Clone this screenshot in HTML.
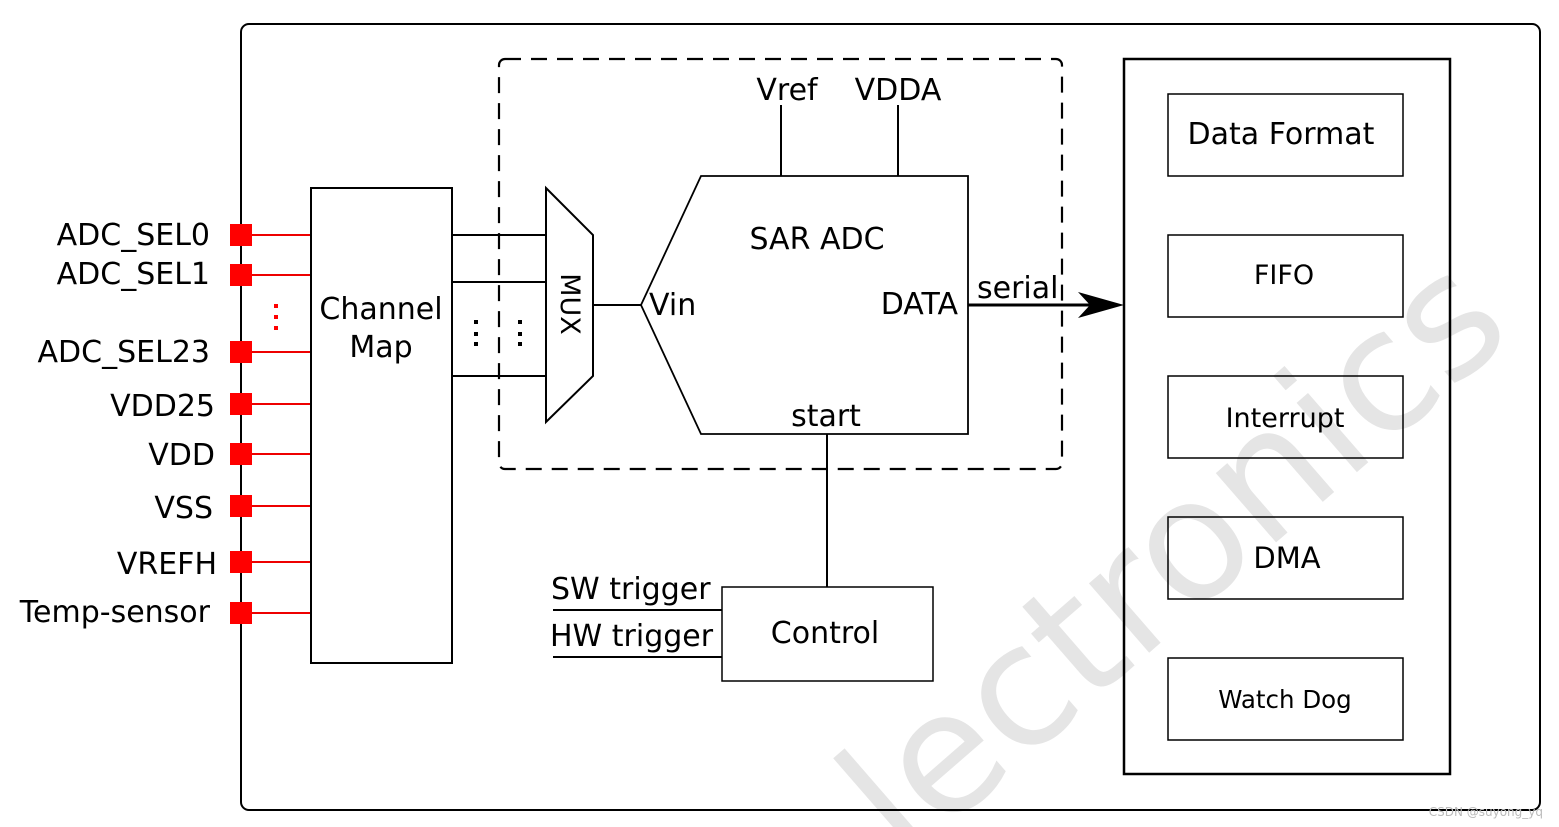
<!DOCTYPE html>
<html><head><style>html,body{margin:0;background:#fff;overflow:hidden;width:1559px;height:827px}svg{display:block;overflow:hidden}</style></head><body>
<svg width="1559" height="827" viewBox="0 0 1559 827" xmlns="http://www.w3.org/2000/svg" font-family="DejaVu Sans, Liberation Sans, sans-serif">
<text x="0" y="0" font-size="168" fill="#e5e5e5" transform="translate(905,865) rotate(-41)">lectronics</text>
<rect x="241" y="24" width="1299" height="786" rx="8" fill="none" stroke="#000" stroke-width="2"/>
<g stroke="#e00" stroke-width="2">
<line x1="252" y1="235" x2="311" y2="235"/><line x1="252" y1="275" x2="311" y2="275"/>
<line x1="252" y1="352" x2="311" y2="352"/><line x1="252" y1="404" x2="311" y2="404"/>
<line x1="252" y1="454" x2="311" y2="454"/><line x1="252" y1="506" x2="311" y2="506"/>
<line x1="252" y1="562" x2="311" y2="562"/><line x1="252" y1="613" x2="311" y2="613"/>
</g>
<g fill="#f00">
<rect x="230" y="224" width="22" height="22"/><rect x="230" y="264" width="22" height="22"/>
<rect x="230" y="341" width="22" height="22"/><rect x="230" y="393" width="22" height="22"/>
<rect x="230" y="443" width="22" height="22"/><rect x="230" y="495" width="22" height="22"/>
<rect x="230" y="551" width="22" height="22"/><rect x="230" y="602" width="22" height="22"/>
<rect x="274" y="304" width="4" height="4"/><rect x="274" y="315" width="4" height="4"/><rect x="274" y="326" width="4" height="4"/>
</g>
<g font-size="30" text-anchor="end" fill="#000">
<text x="210" y="245">ADC_SEL0</text><text x="210" y="284">ADC_SEL1</text>
<text x="210" y="362">ADC_SEL23</text><text x="215" y="416">VDD25</text>
<text x="215" y="465">VDD</text><text x="213" y="518">VSS</text>
<text x="217" y="574">VREFH</text><text x="210" y="622">Temp-sensor</text>
</g>
<g fill="none" stroke="#000" stroke-width="2">
<rect x="311" y="188" width="141" height="475"/>
<line x1="452" y1="235" x2="546" y2="235"/><line x1="452" y1="282" x2="546" y2="282"/><line x1="452" y1="376" x2="546" y2="376"/>
<rect x="499" y="59" width="563" height="410" rx="6" stroke-dasharray="16,10" stroke-width="2.2"/>
<polygon points="546,188 593,235 593,376 546,422"/>
<line x1="593" y1="305" x2="641" y2="305"/>
<polygon points="701,176 968,176 968,434 701,434 641,305" stroke-width="1.8"/>
<line x1="781" y1="105" x2="781" y2="176"/><line x1="898" y1="105" x2="898" y2="176"/>
<line x1="827" y1="434" x2="827" y2="587"/>
<rect x="722" y="587" width="211" height="94" stroke-width="1.5"/>
<line x1="553" y1="610" x2="722" y2="610"/><line x1="553" y1="657" x2="722" y2="657"/>
<line x1="968" y1="305" x2="1090" y2="305" stroke-width="3"/>
<rect x="1124" y="59" width="326" height="715" stroke-width="2.5"/>
<g stroke-width="1.5">
<rect x="1168" y="94" width="235" height="82"/><rect x="1168" y="235" width="235" height="82"/>
<rect x="1168" y="376" width="235" height="82"/><rect x="1168" y="517" width="235" height="82"/>
<rect x="1168" y="658" width="235" height="82"/>
</g>
</g>
<polygon points="1124,305 1078,292 1090,305 1078,318" fill="#000"/>
<g fill="#000">
<rect x="474" y="320" width="4" height="4"/><rect x="474" y="332" width="4" height="4"/><rect x="474" y="342" width="4" height="4"/>
<rect x="518" y="320" width="4" height="4"/><rect x="518" y="332" width="4" height="4"/><rect x="518" y="342" width="4" height="4"/>
</g>
<g font-size="30" fill="#000">
<text x="381" y="319" text-anchor="middle">Channel</text>
<text x="381" y="357" text-anchor="middle">Map</text>
<text x="0" y="0" font-size="27" text-anchor="middle" transform="translate(561,304) rotate(90)">MUX</text>
<text x="787" y="100" text-anchor="middle">Vref</text>
<text x="898" y="100" text-anchor="middle">VDDA</text>
<text x="817" y="249" text-anchor="middle">SAR ADC</text>
<text x="649" y="315">Vin</text>
<text x="958" y="314" text-anchor="end">DATA</text>
<text x="826" y="426" text-anchor="middle">start</text>
<text x="977" y="298">serial</text>
<text x="825" y="643" text-anchor="middle">Control</text>
<text x="551" y="599">SW trigger</text>
<text x="550" y="646">HW trigger</text>
<text x="1281" y="144" text-anchor="middle">Data Format</text>
<text x="1284" y="284" text-anchor="middle" font-size="27">FIFO</text>
<text x="1285" y="427" text-anchor="middle" font-size="27">Interrupt</text>
<text x="1287" y="568" text-anchor="middle" font-size="29">DMA</text>
<text x="1285" y="708" text-anchor="middle" font-size="24.5">Watch Dog</text>
</g>
<text x="1543" y="816" font-size="12" fill="#bbb" text-anchor="end">CSDN @suyong_yq</text>
</svg>
</body></html>
